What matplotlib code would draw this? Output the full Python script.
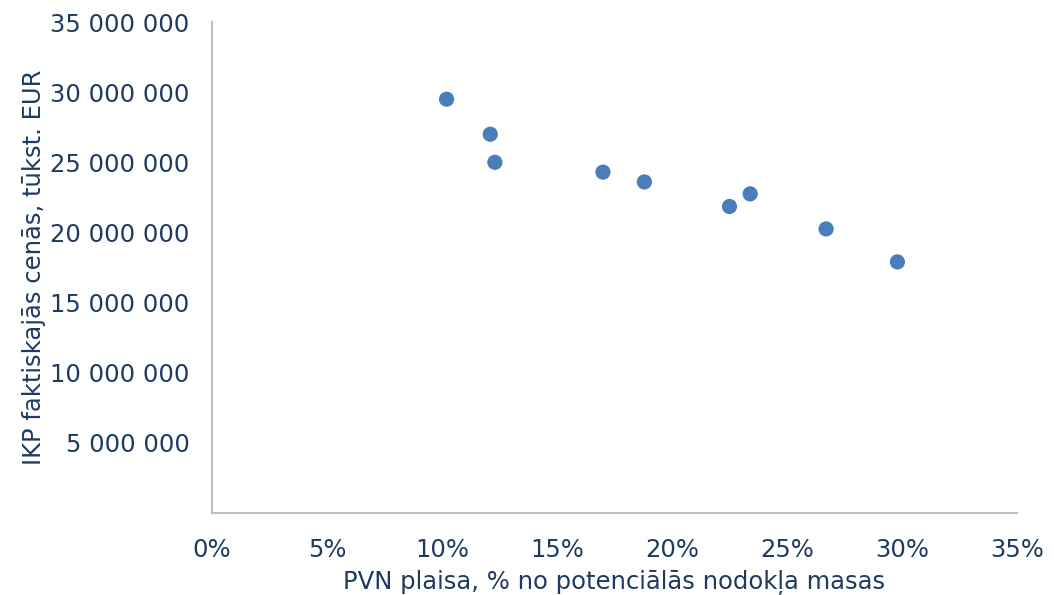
import matplotlib
matplotlib.use("Agg")
import matplotlib.pyplot as plt
from matplotlib.ticker import FuncFormatter, MultipleLocator

vat_gap = [0.102, 0.121, 0.123, 0.170, 0.188, 0.225, 0.234, 0.267, 0.298]
gdp = [29500000, 27000000, 25000000, 24300000, 23600000, 21850000, 22750000, 20250000, 17900000]

x_label = "PVN plaisa, % no potenciālās nodokļa masas"
y_label = "IKP faktiskajās cenās, tūkst. EUR"

text_color = "#1F3A60"
marker_color = "#4A7EBB"
spine_color = "#BFBFBF"

fig = plt.figure(figsize=(10.54, 5.95), dpi=100)
ax = fig.add_axes([0.2011, 0.1378, 0.7638, 0.8252])

ax.scatter(vat_gap, gdp, s=120, color=marker_color, edgecolors="none", zorder=3)

ax.set_xlim(0, 0.35)
ax.set_ylim(0, 35000000)
ax.xaxis.set_major_locator(MultipleLocator(0.05))
ax.yaxis.set_major_locator(MultipleLocator(5000000))
ax.xaxis.set_major_formatter(FuncFormatter(lambda v, p: f"{round(v*100):d}%"))

def yfmt(v, p):
    if v <= 0:
        return ""
    return f"{int(round(v)):,}".replace(",", " ")

ax.yaxis.set_major_formatter(FuncFormatter(yfmt))

for s in ["top", "right"]:
    ax.spines[s].set_visible(False)
for s in ["left", "bottom"]:
    ax.spines[s].set_color(spine_color)
    ax.spines[s].set_linewidth(1.5)

ax.tick_params(axis="both", length=0, labelsize=17.5, colors=text_color)
ax.tick_params(axis="x", pad=18)
ax.tick_params(axis="y", pad=16)

ax.set_xlabel(x_label, fontsize=17.5, color=text_color, labelpad=6)
ax.set_ylabel(y_label, fontsize=17.5, color=text_color, labelpad=3)

fig.savefig("out.png", dpi=100)
